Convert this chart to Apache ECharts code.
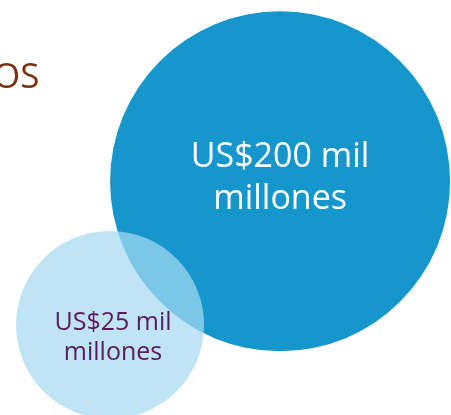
<!DOCTYPE html>
<html>
<head>
<meta charset="utf-8">
<script src="https://cdn.jsdelivr.net/npm/echarts@6/dist/echarts.min.js"></script>
<style>
  html, body { margin: 0; padding: 0; background: #ffffff; }
  #chart { width: 451px; height: 415px; }
</style>
</head>
<body>
<div id="chart"></div>
<script>
// Data
const categories = ['Grande', 'Pequeño'];
const amounts = [200, 25];            // US$ mil millones
const unitLine1 = ' mil';
const unitLine2 = 'millones';
const titleText = 'OS';

// Layout (bubble placement on an abstract 0-100 plane)
const bubbleX = [62.1, 24.4];
const bubbleY = [56.3, 21.7];

const chart = echarts.init(document.getElementById('chart'), null, { renderer: 'canvas' });

const styles = [
  { size: 340, color: '#1596cc', opacity: 1, label: { color: '#ffffff', fontSize: 34, lineHeight: 42, offset: [0, -3] } },
  { size: 188, color: 'rgb(165,217,242)', opacity: 0.72, label: { color: '#5b1a5c', fontSize: 25, lineHeight: 30, offset: [3, 13] } }
];

const data = categories.map((c, i) => ({
  name: c,
  value: [bubbleX[i], bubbleY[i], amounts[i]],
  symbolSize: styles[i].size,
  itemStyle: { color: styles[i].color, opacity: styles[i].opacity },
  label: Object.assign({
    show: true,
    position: 'inside',
    opacity: 1,
    fontFamily: 'Open Sans',
    formatter: 'US$' + amounts[i] + unitLine1 + '\n' + unitLine2
  }, styles[i].label)
}));

chart.setOption({
  animation: false,
  backgroundColor: '#ffffff',
  title: {
    text: titleText,
    left: -12,
    top: 56,
    textStyle: { color: '#7a2f0f', fontSize: 35, fontWeight: 'normal', fontFamily: 'Open Sans' }
  },
  grid: { left: 0, right: 0, top: 0, bottom: 0 },
  xAxis: { type: 'value', min: 0, max: 100, show: false },
  yAxis: { type: 'value', min: 0, max: 100, show: false },
  series: [{
    type: 'scatter',
    symbol: 'circle',
    data: data,
    emphasis: { disabled: true }
  }]
});
</script>
</body>
</html>
